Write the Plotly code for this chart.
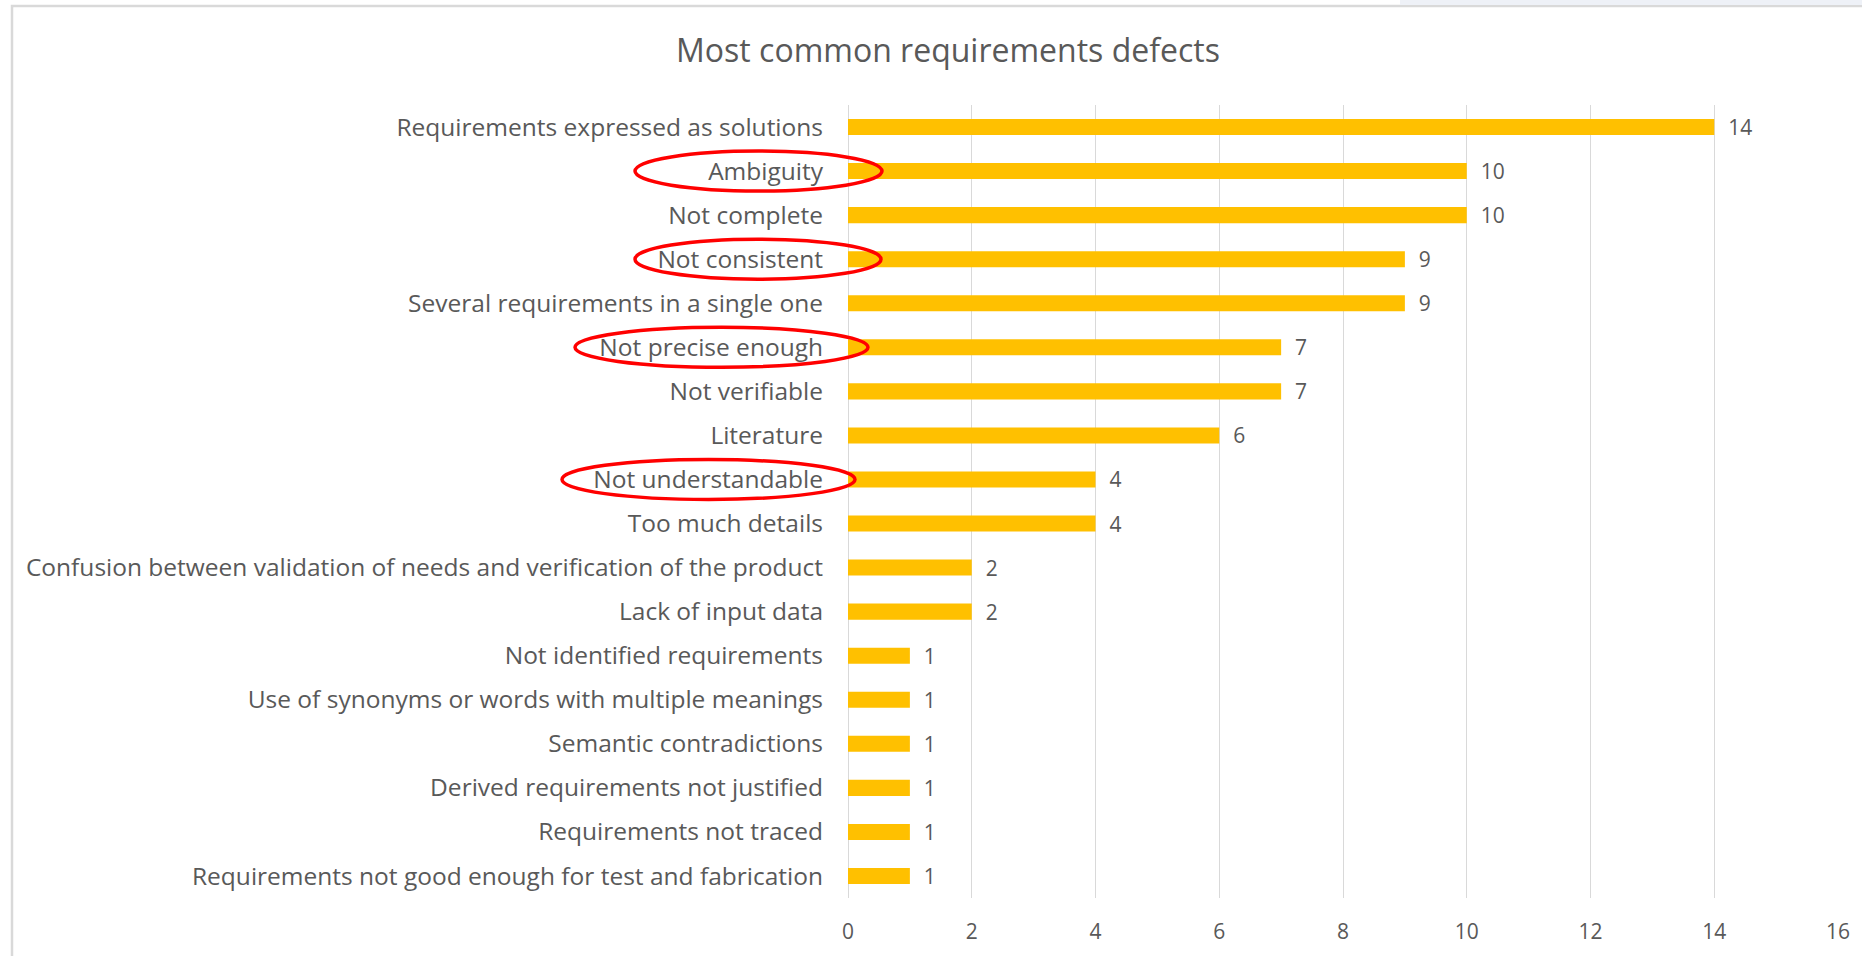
import plotly.graph_objects as go

categories = [
    "Requirements expressed as solutions",
    "Ambiguity",
    "Not complete",
    "Not consistent",
    "Several requirements in a single one",
    "Not precise enough",
    "Not verifiable",
    "Literature",
    "Not understandable",
    "Too much details",
    "Confusion between validation of needs and verification of the product",
    "Lack of input data",
    "Not identified requirements",
    "Use of synonyms or words with multiple meanings",
    "Semantic contradictions",
    "Derived requirements not justified",
    "Requirements not traced",
    "Requirements not good enough for test and fabrication",
]
values = [14, 10, 10, 9, 9, 7, 7, 6, 4, 4, 2, 2, 1, 1, 1, 1, 1, 1]
x_ticks = [0, 2, 4, 6, 8, 10, 12, 14, 16]
circled = ["Ambiguity", "Not consistent", "Not precise enough", "Not understandable"]

W, H = 1862, 956
ML, MR, MT, MB = 848, 24, 105, 58
FONT = "Open Sans"
GREY = "#595959"

fig = go.Figure(go.Bar(
    y=categories,
    x=values,
    orientation="h",
    marker=dict(color="#FFC000", line=dict(width=0)),
    text=["\u00a0\u00a0" + str(v) for v in values],
    textposition="outside",
    constraintext="none",
    textfont=dict(family=FONT, size=21, color=GREY),
    cliponaxis=False,
))

fig.update_layout(
    width=W, height=H,
    margin=dict(l=ML, r=MR, t=MT, b=MB, pad=0),
    paper_bgcolor="white",
    plot_bgcolor="white",
    bargap=0.636,
    showlegend=False,
    font=dict(family=FONT, color=GREY),
    title=dict(
        text="Most common requirements defects",
        x=948 / W, xanchor="center",
        y=1 - 51 / H, yanchor="middle",
        font=dict(family=FONT, size=32, color=GREY),
    ),
    xaxis=dict(
        range=[0, 16],
        tickvals=x_ticks,
        ticktext=[str(t) for t in x_ticks],
        showgrid=True, gridcolor="#d9d9d9", gridwidth=1,
        zeroline=True, zerolinecolor="#d9d9d9", zerolinewidth=1,
        showline=False, ticks="",
        tickfont=dict(family=FONT, size=21, color=GREY),
        ticklabelstandoff=19,
    ),
    yaxis=dict(
        autorange="reversed",
        showgrid=False, showline=False, ticks="",
        tickfont=dict(family=FONT, size=24.5, color=GREY),
        ticklabelstandoff=24,
    ),
)

# chart border (light grey frame of the embedded chart)
fig.add_shape(type="rect", xref="paper", yref="paper",
              x0=(12 - ML) / (W - ML - MR), x1=1.2,
              y0=-0.2, y1=1 + (MT - 6) / (H - MT - MB),
              line=dict(color="#d9d9d9", width=2.5), fillcolor="rgba(0,0,0,0)", layer="below")

# faint slide background showing at the top right
fig.add_shape(type="rect", xref="paper", yref="paper",
              x0=(1400 - ML) / (W - ML - MR), x1=1.1,
              y0=1 + (MT - 5) / (H - MT - MB), y1=1 + MT / (H - MT - MB),
              line=dict(width=0), fillcolor="#eef1f7", layer="below")

# red ellipses around selected category labels
ellipse_x = {
    "Ambiguity": (635, 882),
    "Not consistent": (635, 881),
    "Not precise enough": (575, 868),
    "Not understandable": (562, 855),
}
ry = 20
plot_w = W - ML - MR
plot_h = H - MT - MB
step = plot_h / len(categories)
for name in circled:
    i = categories.index(name)
    cy = MT + (i + 0.5) * step
    x0, x1 = ellipse_x[name]
    fig.add_shape(
        type="circle", xref="paper", yref="paper",
        x0=(x0 - ML) / plot_w, x1=(x1 - ML) / plot_w,
        y0=1 - (cy + ry - MT) / plot_h, y1=1 - (cy - ry - MT) / plot_h,
        line=dict(color="#FF0000", width=3.5),
        fillcolor="rgba(0,0,0,0)",
    )

fig.write_html("out.html", config={"displayModeBar": False},
               post_script="document.body.style.margin='0';document.body.style.overflow='hidden';")
